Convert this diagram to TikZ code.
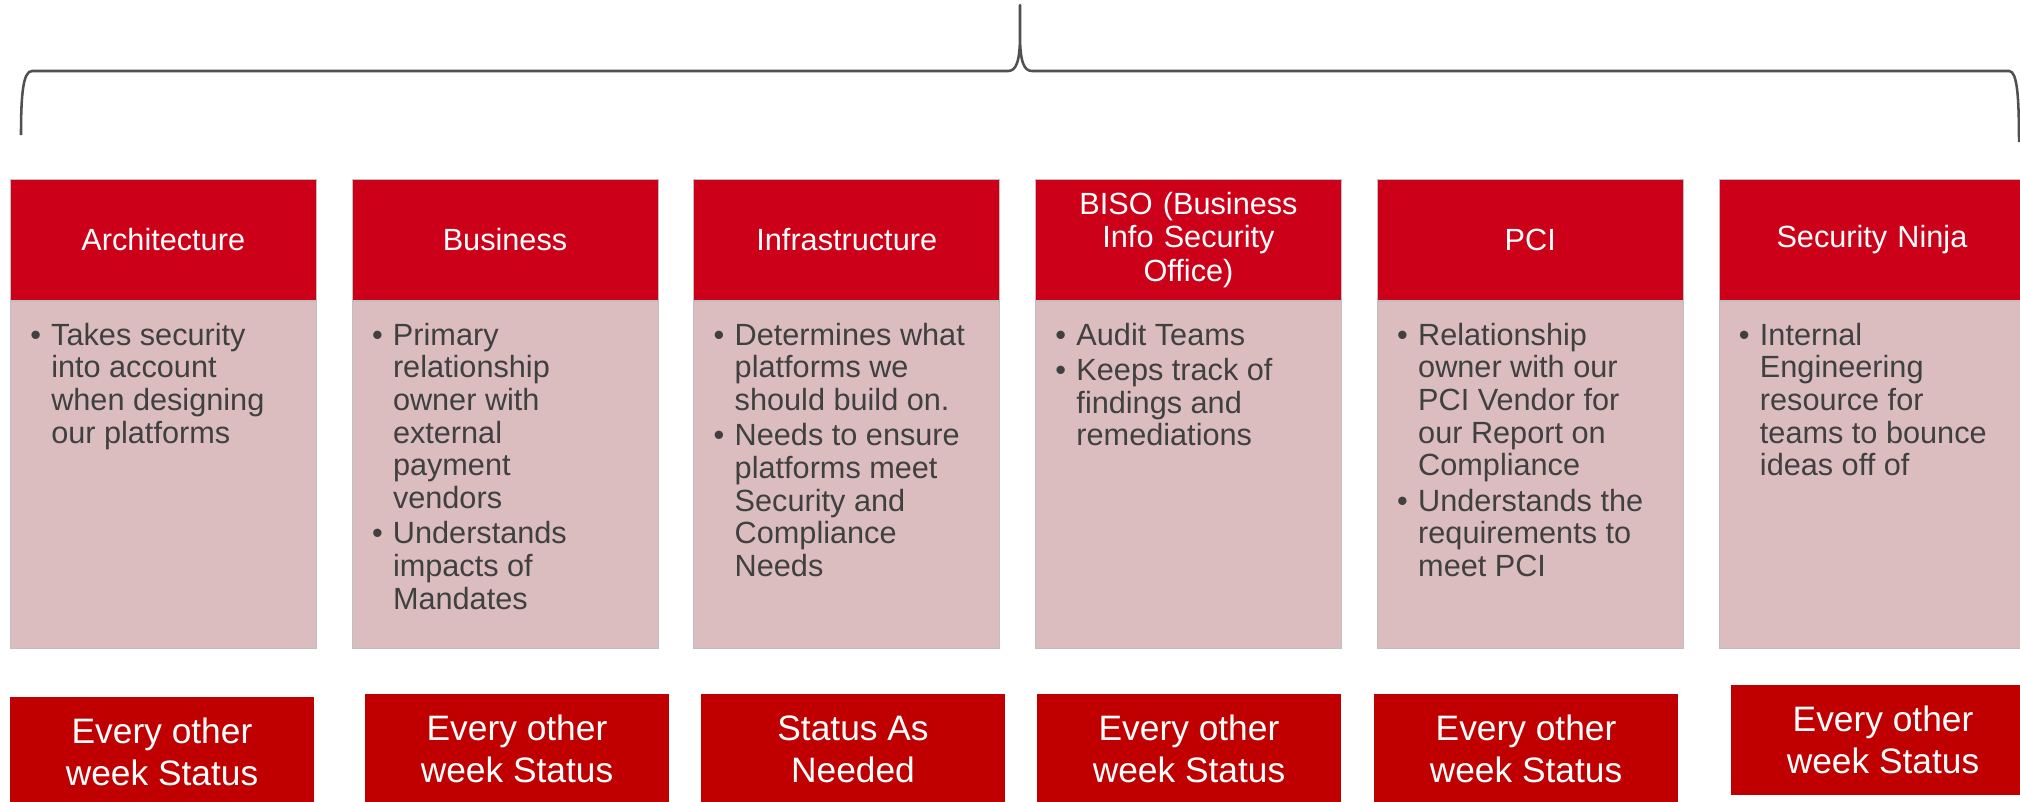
\documentclass[tikz,border=0pt]{standalone}
\usepackage{fontspec}
\setmainfont{Liberation Sans}
\usepackage{xcolor}
\usetikzlibrary{positioning}
\definecolor{headRed}{HTML}{CC0018}
\definecolor{bodyPink}{HTML}{DBBDC0}
\definecolor{statusRed}{HTML}{C00000}
\definecolor{braceGray}{HTML}{505050}
\definecolor{textGray}{HTML}{404040}
\definecolor{frameGray}{HTML}{BFBFBF}
\newcommand{\bul}{\makebox[15.75pt][l]{\textbullet}}
\newcommand{\ind}{\hspace*{15.75pt}}
\tikzset{
    headbox/.style={rectangle, fill=headRed, draw=frameGray, line width=0.4pt, minimum width=229.5pt, minimum height=90.75pt, inner sep=0pt, text width=215pt, align=center, text=white, font=\fontsize{23}{25}\selectfont},
    bodybox/.style={rectangle, fill=bodyPink, draw=frameGray, line width=0.4pt, minimum width=229.5pt, minimum height=260.25pt, inner sep=0pt},
    itemtext/.style={anchor=north west, inner sep=0pt, align=left, text=textGray, font=\fontsize{23}{24.5}\selectfont},
    statusbox/.style={rectangle, fill=statusRed, minimum width=228pt, minimum height=82.5pt, inner sep=0pt, align=center, text=white, font=\fontsize{26.5}{31.3}\selectfont},
    braceline/.style={draw=braceGray, line width=1.9pt, line join=round}
}
\begin{document}
\begin{tikzpicture}[x=0.75pt, y=-0.75pt]
    \useasboundingbox (0,0) rectangle (2020,801);
    % brace over the teams
    \draw[braceline] (21,135) .. controls (21,95) and (23,71) .. (32,71) -- (1008,71)
        .. controls (1016,71) and (1020,62) .. (1020,35) -- (1020,5) -- (1020,35)
        .. controls (1020,62) and (1024,71) .. (1032,71) -- (2009,71)
        .. controls (2017,71) and (2019,95) .. (2019,142);
    % headers
    \node[headbox, anchor=north west] (archHead) at (10,179) {Architecture};
    \node[headbox, right=26.4pt of archHead] (busHead) {Business};
    \node[headbox, right=26.4pt of busHead] (infraHead) {Infrastructure};
    \node[headbox, right=26.4pt of infraHead] (bisoHead) {BISO (Business\\ Info Security\\ Office)};
    \node[headbox, right=26.4pt of bisoHead] (pciHead) {PCI};
    \node[headbox, right=26.4pt of pciHead] (ninjaHead) {Security Ninja};
    % bodies
    \node[bodybox, below=0pt of archHead] (archBody) {};
    \node[bodybox, below=0pt of busHead] (busBody) {};
    \node[bodybox, below=0pt of infraHead] (infraBody) {};
    \node[bodybox, below=0pt of bisoHead] (bisoBody) {};
    \node[bodybox, below=0pt of pciHead] (pciBody) {};
    \node[bodybox, below=0pt of ninjaHead] (ninjaBody) {};
    % bullet texts
    \node[itemtext] (archText) at ([xshift=15pt, yshift=-16.5pt]archBody.north west)
        {\bul Takes security\\ \ind into account\\ \ind when designing\\ \ind our platforms};
    \node[itemtext] (busText) at ([xshift=15pt, yshift=-16.5pt]busBody.north west)
        {\bul Primary\\ \ind relationship\\ \ind owner with\\ \ind external\\ \ind payment\\ \ind vendors\\[2pt]
         \bul Understands\\ \ind impacts of\\ \ind Mandates};
    \node[itemtext] (infraText) at ([xshift=15pt, yshift=-16.5pt]infraBody.north west)
        {\bul Determines what\\ \ind platforms we\\ \ind should build on.\\[2pt]
         \bul Needs to ensure\\ \ind platforms meet\\ \ind Security and\\ \ind Compliance\\ \ind Needs};
    \node[itemtext] (bisoText) at ([xshift=15pt, yshift=-16.5pt]bisoBody.north west)
        {\bul Audit Teams\\[2pt] \bul Keeps track of\\ \ind findings and\\ \ind remediations};
    \node[itemtext] (pciText) at ([xshift=15pt, yshift=-16.5pt]pciBody.north west)
        {\bul Relationship\\ \ind owner with our\\ \ind PCI Vendor for\\ \ind our Report on\\ \ind Compliance\\[2pt]
         \bul Understands the\\ \ind requirements to\\ \ind meet PCI};
    \node[itemtext] (ninjaText) at ([xshift=15pt, yshift=-16.5pt]ninjaBody.north west)
        {\bul Internal\\ \ind Engineering\\ \ind resource for\\ \ind teams to bounce\\ \ind ideas off of};
    % status boxes
    \node[statusbox] (archStatus) at (162,752) {Every other\\ week Status};
    \node[statusbox] (busStatus) at (517,749) {Every other\\ week Status};
    \node[statusbox] (infraStatus) at (853,749) {Status As\\ Needed};
    \node[statusbox] (bisoStatus) at (1189,749) {Every other\\ week Status};
    \node[statusbox] (pciStatus) at (1526,749) {Every other\\ week Status};
    \node[statusbox] (ninjaStatus) at (1883,740) {Every other\\ week Status};
\end{tikzpicture}
\end{document}
